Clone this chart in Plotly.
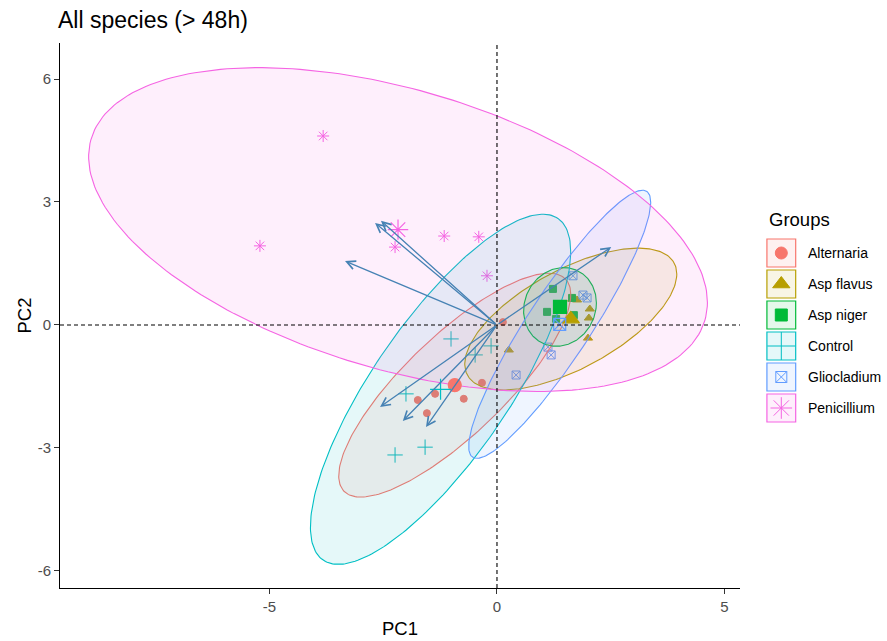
import numpy as np
import plotly.graph_objects as go

# ---------------- data ----------------
groups = ["Alternaria", "Asp flavus", "Asp niger", "Control", "Gliocladium", "Penicillium"]
colors = ["#F8766D", "#B79F00", "#00BA38", "#00BFC4", "#619CFF", "#F564E3"]
symbols = ["circle", "triangle-up", "square", "cross-thin-open", "square-x-open", "asterisk-open"]

alt_x = [-1.74, -1.36, -0.73, -1.54, -0.33, 0.13]
alt_y = [-1.83, -1.68, -1.80, -2.15, -1.41, 0.07]
flav_x = [0.26, 1.65, 1.76, 2.04, 2.02, 2.00]
flav_y = [-0.61, 0.63, 0.61, 0.39, 0.17, -0.32]
niger_x = [1.23, 1.10, 1.30, 1.69, 1.65, 1.34]
niger_y = [0.88, 0.32, 0.15, 0.24, 0.66, 0.39]
ctrl_x = [-1.01, -0.13, -0.48, -2.00, -1.58, -2.24]
ctrl_y = [-0.34, -0.51, -0.73, -1.68, -2.98, -3.17]
glio_x = [1.67, 1.89, 1.98, 1.12, 1.19, 0.42]
glio_y = [1.20, 0.73, 0.66, -0.54, -0.73, -1.22]
pen_x = [-3.82, -5.21, -2.24, -1.16, -0.40, -0.22]
pen_y = [4.61, 1.93, 1.90, 2.17, 2.15, 1.20]

# ellipse half-extents along x / y and correlation
ell_ax = [2.55, 2.33, 0.80, 2.86, 2.00, 6.80]
ell_ay = [2.73, 1.73, 0.96, 4.27, 3.27, 3.95]
ell_rho = [0.81, 0.635, 0.10, 0.786, 0.91, -0.45]

# variable loadings (arrow tips)
var_x = [-2.68, -2.55, -3.34, 2.51, -2.57, -2.07, -1.56]
var_y = [2.49, 2.54, 1.56, 1.90, -2.00, -2.34, -2.49]

x_ticks = [-5, 0, 5]
x_ticklabels = ["-5", "0", "5"]
y_ticks = [-6, -3, 0, 3, 6]
y_ticklabels = ["-6", "-3", "0", "3", "6"]

xs = [alt_x, flav_x, niger_x, ctrl_x, glio_x, pen_x]
ys = [alt_y, flav_y, niger_y, ctrl_y, glio_y, pen_y]

small_size = [7, 8, 7, 11, 8, 10]
mean_size = [13, 15, 13, 15, 12, 17]
legend_size = [12, 15, 12, 20, 11, 18]

FONT = "Liberation Sans, Arial, sans-serif"


def rgba(hex_c, a):
    h = hex_c.lstrip("#")
    r, g, b = int(h[0:2], 16), int(h[2:4], 16), int(h[4:6], 16)
    return f"rgba({r},{g},{b},{a})"


def ellipse(cx, cy, ax, ay, rho, n=240):
    t = np.linspace(0, 2 * np.pi, n)
    ex = cx + ax * np.cos(t)
    ey = cy + ay * (rho * np.cos(t) + np.sqrt(1 - rho ** 2) * np.sin(t))
    return ex, ey


fig = go.Figure()

# individual points
for i, g in enumerate(groups):
    fig.add_trace(go.Scatter(
        x=xs[i], y=ys[i], mode="markers", showlegend=False, hoverinfo="skip",
        marker=dict(symbol=symbols[i], size=small_size[i], color=colors[i],
                    line=dict(width=1, color=colors[i]))))

# ellipses
for i, g in enumerate(groups):
    cx, cy = np.mean(xs[i]), np.mean(ys[i])
    ex, ey = ellipse(cx, cy, ell_ax[i], ell_ay[i], ell_rho[i])
    fig.add_trace(go.Scatter(
        x=ex, y=ey, mode="lines", fill="toself", fillcolor=rgba(colors[i], 0.1),
        line=dict(color=colors[i], width=1.1), showlegend=False, hoverinfo="skip"))

# group means
for i, g in enumerate(groups):
    fig.add_trace(go.Scatter(
        x=[np.mean(xs[i])], y=[np.mean(ys[i])], mode="markers", showlegend=False,
        hoverinfo="skip",
        marker=dict(symbol=symbols[i], size=mean_size[i], color=colors[i],
                    line=dict(width=1.2, color=colors[i]))))

# variable arrows
annotations = []
for vx, vy in zip(var_x, var_y):
    annotations.append(dict(
        x=vx, y=vy, ax=0, ay=0, xref="x", yref="y", axref="x", ayref="y",
        text="", showarrow=True, arrowhead=5, arrowsize=1.3, arrowwidth=1.3,
        arrowcolor="#4682B4", standoff=0, startstandoff=0))

# axis titles
annotations.append(dict(x=0.5, y=-40 / 545, xref="x domain", yref="paper", text="PC1",
                        showarrow=False, xanchor="center", yanchor="middle",
                        font=dict(family=FONT, size=18.5, color="black")))
annotations.append(dict(x=-36 / 822, y=0.5, xref="paper", yref="y domain", text="PC2",
                        showarrow=False, xanchor="center", yanchor="middle", textangle=-90,
                        font=dict(family=FONT, size=18.5, color="black")))

# ---------------- manual legend (ggplot style keys) ----------------
leg_y = [210 + 31 * i for i in range(len(groups))]
shapes = [
    dict(type="line", xref="x domain", yref="y", x0=0, x1=1, y0=0, y1=0,
         line=dict(color="black", width=1.1, dash="4px,3px"), layer="above"),
    dict(type="line", xref="x", yref="y domain", x0=0, x1=0, y0=0, y1=1,
         line=dict(color="black", width=1.1, dash="4px,3px"), layer="above"),
]
for i, g in enumerate(groups):
    shapes.append(dict(type="rect", xref="x2", yref="y2", x0=2, x1=32,
                       y0=leg_y[i] - 14, y1=leg_y[i] + 14,
                       fillcolor=rgba(colors[i], 0.1),
                       line=dict(color=colors[i], width=1.2)))
    annotations.append(dict(x=43, y=leg_y[i], xref="x2", yref="y2", text=g,
                            showarrow=False, xanchor="left", yanchor="middle",
                            font=dict(family=FONT, size=14, color="black")))
annotations.append(dict(x=2, y=176, xref="x2", yref="y2", text="Groups",
                        showarrow=False, xanchor="left", yanchor="middle",
                        font=dict(family=FONT, size=18.5, color="black")))

for i, g in enumerate(groups):
    fig.add_trace(go.Scatter(
        x=[17], y=[leg_y[i]], xaxis="x2", yaxis="y2", mode="markers",
        showlegend=False, hoverinfo="skip",
        marker=dict(symbol=symbols[i], size=legend_size[i], color=colors[i],
                    line=dict(width=1, color=colors[i]))))

fig.update_layout(
    width=887, height=641,
    margin=dict(l=60, r=5, t=43, b=53),
    paper_bgcolor="white", plot_bgcolor="white",
    font=dict(family=FONT, color="black"),
    showlegend=False,
    title=dict(text="All species (> 48h)", x=58 / 887, xref="container", xanchor="left",
               y=1 - 20 / 641, yref="container", yanchor="middle",
               font=dict(family=FONT, size=23, color="black")),
    xaxis=dict(domain=[0, 680 / 822], range=[-9.604, 5.341], showline=True,
               linecolor="black", linewidth=1, ticks="outside", ticklen=5,
               tickcolor="#333333", tickvals=x_ticks, ticktext=x_ticklabels,
               showgrid=False, zeroline=False, automargin=False,
               tickfont=dict(size=15, color="#4D4D4D")),
    yaxis=dict(range=[-6.415, 6.878], showline=True, linecolor="black", linewidth=1,
               ticks="outside", ticklen=5, tickcolor="#333333",
               tickvals=y_ticks, ticktext=y_ticklabels, showgrid=False,
               zeroline=False, automargin=False,
               tickfont=dict(size=15, color="#4D4D4D")),
    xaxis2=dict(domain=[705 / 822, 1], range=[0, 122], visible=False, anchor="y2",
                fixedrange=True, automargin=False),
    yaxis2=dict(domain=[0, 1], range=[545, 0], visible=False, anchor="x2",
                fixedrange=True, automargin=False),
    shapes=shapes,
    annotations=annotations,
)

fig.write_html("out.html", config={"displayModeBar": False},
               post_script="document.body.style.margin='0px';document.body.style.overflow='hidden';")
